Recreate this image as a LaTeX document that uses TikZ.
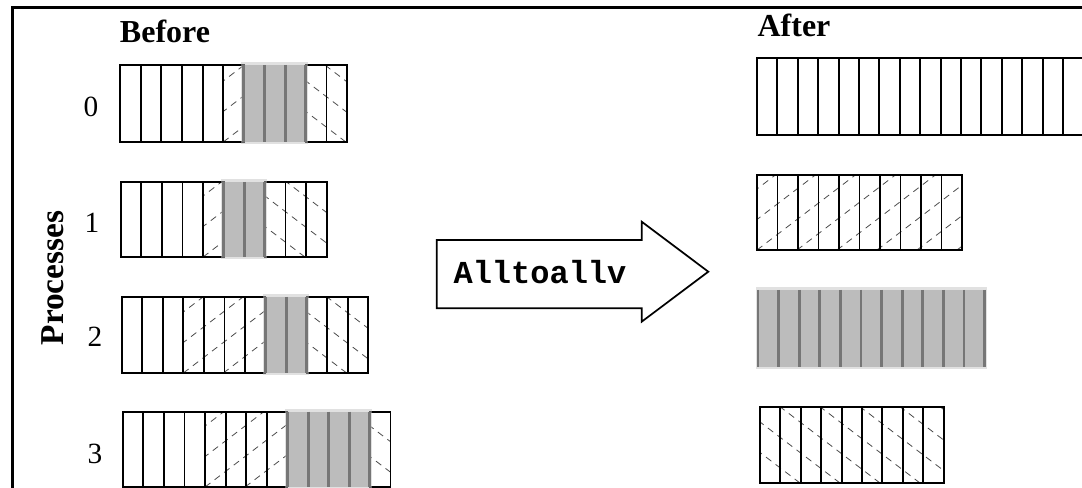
\documentclass[tikz,border=0pt]{standalone}
\usepackage{fontspec}
\setmainfont{Liberation Serif}
\setmonofont{Liberation Mono}

\tikzset{
	cell/.style={draw=black, line width=1.4},
	grayfill/.style={fill={rgb, 255:red, 188; green, 188; blue, 188 }},
	graysep/.style={draw={rgb, 255:red, 118; green, 118; blue, 118 }, line width=2.2},
	graysoft/.style={fill={rgb, 255:red, 195; green, 195; blue, 195 }, fill opacity=0.5},
	hatch/.style={draw=black!70, line width=0.6, dash pattern=on 5pt off 4pt},
	label/.style={inner sep=0pt}}
\tikzset{every picture/.style={line width=0.75pt}}

% plain cells: left, top, cell width, count, height
\newcommand{\plainblock}[5]{%
	\foreach \i in {1,...,#4}
		\draw[cell] ({#1+(\i-1)*#3},#2) rectangle ++(#3,#5);}
% hatched cells, last argument 1 for /, -1 for \
\newcommand{\hatchblock}[6]{%
	\begin{scope}
		\clip (#1,#2) rectangle ++({#3*#4},#5);
		\foreach \k in {-4,...,12}
			\draw[hatch] ({#1+\k*40},{#2+#5}) -- ++({#6*118},-90);
	\end{scope}
	\plainblock{#1}{#2}{#3}{#4}{#5}}
% shaded cells
\newcommand{\grayblock}[5]{%
	\fill[graysoft] ({#1-2.5},{#2-2.5}) rectangle ++({#3*#4+5},{#5+5});
	\fill[grayfill] (#1,#2) rectangle ++({#3*#4},#5);
	\foreach \i in {0,...,#4}
		\draw[graysep] ({#1+\i*#3},#2) -- ++(0,#5);}

\begin{document}
\begin{tikzpicture}[x=0.75pt,y=0.75pt,yscale=-1,xscale=1]
	\useasboundingbox (0,0) rectangle (1082,488);

	%Frame
	\draw [line width=2.25]    (12,490) -- (12,8) -- (1084,8) ;

	% Text Node
	\node[label, font=\fontsize{24}{24}\selectfont\bfseries] (before) at (165,31) {Before};
	% Text Node
	\node[label, font=\fontsize{24}{24}\selectfont\bfseries] (after) at (794,25) {After};
	% Text Node
	\node[label, font=\fontsize{25}{25}\selectfont\bfseries, rotate=90] (procs) at (53,278) {Processes};

	% Text Node
	\node[label, font=\fontsize{22}{22}\selectfont] (p0) at (91,107) {0};
	\node[label, font=\fontsize{22}{22}\selectfont] (p1) at (92,223) {1};
	\node[label, font=\fontsize{22}{22}\selectfont] (p2) at (95,337) {2};
	\node[label, font=\fontsize{22}{22}\selectfont] (p3) at (95,454) {3};

	%Send buffer, process 0
	\plainblock{120}{65}{20.65}{5}{77}
	\hatchblock{223.25}{65}{20.65}{1}{77}{1}
	\hatchblock{305.85}{65}{20.65}{2}{77}{-1}
	\grayblock{243.9}{65}{20.65}{3}{77}
	%Send buffer, process 1
	\plainblock{120.7}{182}{20.6}{4}{75}
	\hatchblock{203.1}{182}{20.6}{1}{75}{1}
	\hatchblock{264.9}{182}{20.6}{3}{75}{-1}
	\grayblock{223.7}{182}{20.6}{2}{75}
	%Send buffer, process 2
	\plainblock{121.7}{297}{20.55}{3}{76}
	\hatchblock{183.35}{297}{20.55}{4}{76}{1}
	\hatchblock{306.65}{297}{20.55}{3}{76}{-1}
	\grayblock{265.55}{297}{20.55}{2}{76}
	%Send buffer, process 3
	\plainblock{122.7}{411.7}{20.6}{4}{75.3}
	\hatchblock{205.1}{411.7}{20.6}{4}{75.3}{1}
	\hatchblock{369.9}{411.7}{20.6}{1}{75.3}{-1}
	\grayblock{287.5}{411.7}{20.6}{4}{75.3}

	%Shape: Block Arrow
	\draw [line width=1.3]   (436.7,240) -- (641.7,240) -- (641.7,221.7) -- (708.3,271.7) -- (641.7,321.7) -- (641.7,308.3) -- (436.7,308.3) -- cycle ;
	% Text Node
	\node[label, font=\fontsize{24}{24}\selectfont\ttfamily\bfseries] (call) at (540,272) {Alltoallv};

	%Receive buffers
	\plainblock{757}{58}{20.4}{16}{77}
	\hatchblock{757}{175}{20.5}{10}{75}{1}
	\grayblock{758}{290}{20.6}{11}{77}
	\hatchblock{760}{407}{20.4}{9}{76}{-1}

\end{tikzpicture}
\end{document}
